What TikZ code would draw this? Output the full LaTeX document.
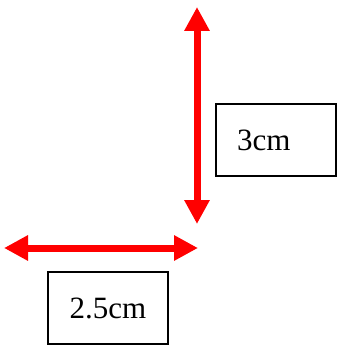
\documentclass[tikz,border=0pt]{standalone}
\usepackage{fontspec}
\setmainfont{Liberation Serif}
\usetikzlibrary{arrows.meta}
\begin{document}
\begin{tikzpicture}[x=1pt,y=-1pt,
  dimarrow/.style={draw=red, line width=7pt, {Triangle[length=24pt,width=24pt]}-{Triangle[length=24pt,width=24pt]}},
  labelbox/.style={draw=black, line width=2pt, minimum width=120pt, minimum height=72pt, font=\fontsize{31}{36}\selectfont, outer sep=0pt}]
  \useasboundingbox (0,0) rectangle (337,345);
  \coordinate (vtop) at (197,7);
  \coordinate (vbot) at (197,224);
  \coordinate (hleft) at (4,248);
  \coordinate (hright) at (198,248);
  \draw[dimarrow] (vtop) -- (vbot);
  \draw[dimarrow] (hleft) -- (hright);
  \node[labelbox, text width=78pt, align=left, inner xsep=21pt] (three) at (276,140) {3cm};
  \node[labelbox, align=center] (twofive) at (108,308) {2.5cm};
\end{tikzpicture}
\end{document}
